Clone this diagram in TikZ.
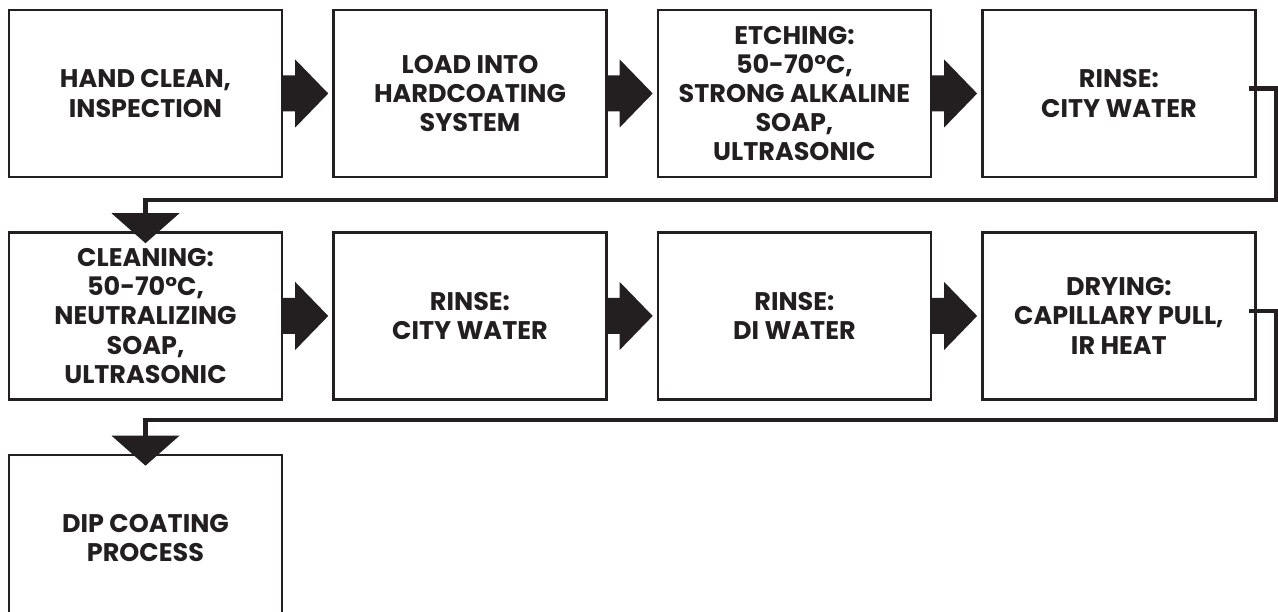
\documentclass[tikz,border=0pt]{standalone}
\usepackage{fontspec}
\setmainfont{Poppins}
\definecolor{flowdark}{HTML}{231F20}
\usetikzlibrary{positioning,calc}

\newcommand{\fatarrow}[2]{%
  \fill[flowdark] ($(#1.east)+(0,0.36)$) -- ++(0.24,0) -- ++(0,0.32)
    -- ($(#2.west)+(-0.08,0)$) -- ($(#1.east)+(0.24,-0.68)$)
    -- ++(0,0.32) -- ++(-0.24,0) -- cycle;}
\newcommand{\droptip}[1]{%
  \fill[flowdark] ($(#1.north)+(-0.68,0.36)$) -- ($(#1.north)+(0.68,0.36)$)
    -- ($(#1.north)+(0,-0.24)$) -- cycle;}

\begin{document}
\begin{tikzpicture}[
  stepbox/.style={draw=flowdark, line width=1.4pt, fill=white,
                  minimum width=5.46cm, minimum height=3.34cm,
                  align=center, inner sep=0pt,
                  font=\fontsize{14.5}{16.6}\selectfont\bfseries\color{flowdark}},
  link/.style={draw=flowdark, line width=2.3pt}
]
  \useasboundingbox (0,0) rectangle (25.56,12.24);

  % first row
  \node[stepbox] (hand) at (2.91,10.37) {HAND CLEAN,\\INSPECTION};
  \node[stepbox, right=0.98cm of hand] (load) {LOAD INTO\\HARDCOATING\\SYSTEM};
  \node[stepbox, right=0.98cm of load] (etch)
    {ETCHING:\\50-70°C,\\STRONG ALKALINE\\SOAP,\\ULTRASONIC};
  \node[stepbox, right=0.98cm of etch] (rinsea) {RINSE:\\CITY WATER};

  % second row
  \node[stepbox, below=1.06cm of hand] (clean)
    {CLEANING:\\50-70°C,\\NEUTRALIZING\\SOAP,\\ULTRASONIC};
  \node[stepbox, right=0.98cm of clean] (rinseb) {RINSE:\\CITY WATER};
  \node[stepbox, right=0.98cm of rinseb] (rinsec) {RINSE:\\DI WATER};
  \node[stepbox, right=0.98cm of rinsec] (dry) {DRYING:\\CAPILLARY PULL,\\IR HEAT};

  % last row
  \node[stepbox, below=1.06cm of clean] (dip) {DIP COATING\\PROCESS};

  \fatarrow{hand}{load}
  \fatarrow{load}{etch}
  \fatarrow{etch}{rinsea}
  \fatarrow{clean}{rinseb}
  \fatarrow{rinseb}{rinsec}
  \fatarrow{rinsec}{dry}

  \coordinate (turna) at (25.52,8.24);
  \coordinate (turnb) at (25.52,3.84);
  \draw[link] ($(rinsea.east)+(-0.15,0.1)$) -| (turna) -| ($(clean.north)+(0,0.36)$);
  \draw[link] ($(dry.east)+(-0.15,0.1)$) -| (turnb) -| ($(dip.north)+(0,0.36)$);
  \droptip{clean}
  \droptip{dip}

\end{tikzpicture}
\end{document}
